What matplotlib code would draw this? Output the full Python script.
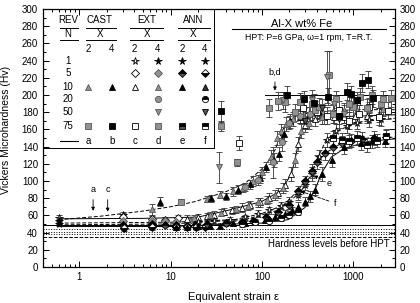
import matplotlib.pyplot as plt
from matplotlib.ticker import MultipleLocator, LogLocator, NullFormatter, FixedLocator, FixedFormatter

plt.rcParams['font.family'] = ['Liberation Sans', 'DejaVu Sans']

# ---------------- data ----------------
# low strain cluster
ext2_n1_x = [0.6, 3.0]
ext2_n1_y = [57, 61]
ext2_n1_e = [4, 3]
ext4_n1_x = [0.6, 3.0, 6.3]
ext4_n1_y = [53, 52, 50]
ext4_n1_e = [3, 3, 3]
ann_n1_x = [0.6, 3.0]
ann_n1_y = [50, 47]
ann_n1_e = [2, 3]
ext2_n5_x = [3.0, 6.3, 8.7, 12]
ext2_n5_y = [58, 56, 55, 57]
ext2_n5_e = [3, 3, 3, 3]
ext4_n5_x = [3.0, 6.3, 8.7, 11.5, 16]
ext4_n5_y = [54, 54, 53, 52, 54]
ext4_n5_e = [3, 3, 3, 3, 3]
ann2_n5_x = [3.0, 6.3, 8.7, 11.5, 15, 19]
ann2_n5_y = [49, 50, 49, 49, 48, 50]
ann2_n5_e = [3, 3, 3, 3, 3, 3]
ann4_n5_x = [3.1, 6.3, 11.5, 15, 19, 24]
ann4_n5_y = [45, 46, 46, 47, 46, 47]
ann4_n5_e = [3, 3, 3, 3, 3, 3]

# curve 1 group
cast2_n10_x = [6.3, 25, 35, 48, 62, 80, 100, 125, 145, 160, 185, 220, 280, 350, 450, 600, 800, 1100, 1500, 2100]
cast2_n10_y = [67, 79, 84, 88, 92, 100, 110, 128, 150, 158, 166, 172, 176, 179, 181, 182, 183, 183, 184, 184]
cast2_n10_e = [6, 4, 4, 5, 5, 6, 6, 8, 8, 8, 8, 8, 8, 8, 8, 8, 8, 8, 8, 8]
cast4_n10_x = [7.7, 28, 40, 55, 75, 95, 112, 135, 152, 175, 205, 260, 330, 420]
cast4_n10_y = [76, 80, 82, 90, 96, 104, 116, 124, 131, 155, 170, 175, 178, 180]
cast4_n10_e = [5, 4, 4, 5, 5, 6, 6, 8, 8, 8, 8, 8, 8, 8]
ext4_n20_x = [65, 90, 133, 165, 200, 260, 340]
ext4_n20_y = [93, 101, 122, 145, 168, 176, 178]
ext4_n20_e = [5, 6, 18, 10, 8, 8, 8]

# curve 2 group
ext2_n10_x = [15, 20, 25, 30, 38, 47, 60, 75, 95, 120, 150, 180, 210, 250, 300, 380, 480, 620, 800, 1050, 1400, 1900]
ext2_n10_y = [56, 58, 59, 61, 64, 66, 69, 72, 75, 80, 86, 95, 108, 143, 165, 172, 174, 175, 175, 176, 176, 177]
ext2_n10_e = [4, 4, 4, 4, 4, 4, 5, 5, 5, 6, 6, 7, 8, 8, 8, 8, 8, 8, 8, 8, 8, 8]
ext4_n10_x = [18, 27, 36, 52, 70, 90, 115, 140, 170, 230, 270, 330, 450]
ext4_n10_y = [57, 60, 63, 67, 71, 75, 78, 84, 92, 124, 158, 168, 174]
ext4_n10_e = [4, 4, 4, 4, 5, 5, 5, 6, 6, 8, 8, 8, 8]

# curve e / f groups
ext2_s_x = [20, 30, 45, 65, 90, 120, 160, 200, 250, 300, 350, 420, 520, 650, 850, 1100, 1500, 2000]
ext2_s_y = [52, 53, 55, 58, 62, 66, 71, 76, 84, 95, 108, 128, 148, 158, 164, 168, 171, 172]
ext2_s_e = [3, 3, 3, 3, 4, 4, 4, 5, 6, 6, 8, 8, 8, 8, 8, 8, 8, 8]
ann_d_x = [25, 40, 60, 80, 110, 150, 200, 250, 300, 350, 400, 490, 600, 750, 950, 1250, 1700, 2300]
ann_d_y = [50, 51, 52, 54, 58, 64, 72, 88, 100, 112, 122, 132, 140, 144, 147, 149, 150, 151]
ann_d_e = [3, 3, 3, 3, 4, 4, 5, 6, 6, 8, 8, 8, 8, 8, 8, 8, 8, 8]

# bottom curve group
ann2_n10_x = [11.5, 15, 20, 27, 35, 48, 65, 84, 108, 139, 178, 211, 250, 295, 340, 380, 450, 580, 800, 1230, 1600, 2200]
ann2_n10_y = [47, 47, 48, 48, 48, 51, 51, 53, 55, 58, 62, 66, 70, 76, 82, 90, 108, 124, 139, 144, 146, 147]
ann2_n10_e = [3, 3, 3, 3, 3, 3, 3, 3, 3, 4, 4, 4, 5, 5, 6, 6, 8, 8, 8, 8, 8, 8]
ann4_n20_x = [60, 85, 120, 160, 200, 250]
ann4_n20_y = [50, 52, 54, 57, 61, 64]
ann4_n20_e = [3, 3, 3, 3, 4, 4]

# N = 50 / 75 group (upper right)
cast4_n75_x = [36, 186, 290, 370, 530, 700, 850, 955, 1100, 1250, 1450, 1650]
cast4_n75_y = [181, 200, 195, 191, 198, 176, 204, 201, 194, 214, 218, 196]
cast4_n75_e = [12, 10, 10, 10, 10, 10, 10, 10, 10, 10, 10, 10]
cast2_n75_x = [13, 53, 150, 178, 262, 350, 420, 540, 650, 900, 1200, 1600, 2100, 2600]
cast2_n75_y = [76, 122, 193, 192, 192, 189, 186, 223, 195, 190, 198, 200, 195, 196]
cast2_n75_e = [3, 4, 10, 12, 10, 10, 10, 28, 10, 10, 10, 10, 10, 10]
ext2_n75_x = [56, 280, 400, 520, 700, 900, 1150, 1500, 1900, 2400]
ext2_n75_y = [144, 185, 180, 176, 183, 170, 178, 186, 175, 182]
ext2_n75_e = [8, 10, 10, 10, 10, 10, 10, 10, 10, 10]
ext4_n75_x = [36, 120, 230, 380, 600, 1000, 1400, 2000]
ext4_n75_y = [164, 185, 180, 183, 178, 186, 185, 190]
ext4_n75_e = [6, 10, 10, 10, 10, 10, 10, 10]
ext4_n50_x = [34, 170, 350, 510, 620, 800]
ext4_n50_y = [116, 194, 194, 221, 190, 178]
ext4_n50_e = [18, 10, 12, 30, 10, 10]
ann4_n50_x = [300, 450, 700]
ann4_n50_y = [170, 185, 172]
ann4_n50_e = [10, 10, 10]
ann_n75_x = [600, 750, 900, 1100, 1400, 1800, 2300]
ann_n75_y = [150, 148, 146, 150, 142, 147, 152]
ann_n75_e = [8, 8, 8, 8, 8, 8, 8]

# fitted curves
curve_c_x = [0.6, 1.7, 5, 10, 18.5, 39, 65, 108, 139, 157, 178, 230, 350, 630, 1200, 2850]
curve_c_y = [55, 59, 65, 70, 76, 87, 97, 117, 136, 151, 165, 175, 180, 182, 183, 183]
curve_a_x = [0.6, 5, 20, 43, 99, 164, 211, 230, 250, 271, 321, 449, 807, 2850]
curve_a_y = [56, 56.5, 58, 66, 76, 89, 109, 124, 144, 158, 168, 174, 175, 177]
curve_e_x = [0.6, 10, 50, 99, 194, 271, 349, 412, 508, 682, 1227, 2850]
curve_e_y = [51, 52, 55, 62, 74, 89, 108, 128, 148, 159, 169, 173]
curve_f_x = [0.6, 10, 65, 151, 250, 349, 488, 743, 1452, 2850]
curve_f_y = [49, 50, 55, 66, 89, 113, 132, 144, 150, 151]
curve_b_x = [0.6, 10, 50, 99, 194, 295, 379, 449, 577, 807, 1452, 2850]
curve_b_y = [47, 47, 50, 51, 55, 69, 89, 109, 128, 138, 146, 149]
bd_x = [108, 2850]
bd_y = [200, 200]

before_hpt = [49, 44, 41, 38, 35]
before_styles = ['-', ':', ':', ':', '--']

GRAY = '#929292'
DGRAY = '#555555'

# ---------------- figure ----------------
fig = plt.figure(figsize=(4.2, 3.03), dpi=100)
ax = fig.add_axes([0.102, 0.119, 0.838, 0.851])
ax.set_xscale('log')
ax.set_xlim(0.4, 2850)
ax.set_ylim(0, 300)


def draw(x, y, e, marker, fc, ec='black', fill='full', alt='white', ms=4.5):
    ax.errorbar(x, y, yerr=e, fmt='none', ecolor='#333333', elinewidth=0.6,
                capsize=2, capthick=0.6, zorder=2)
    ax.plot(x, y, ls='none', marker=marker, ms=ms, mfc=fc, mec=ec, mew=0.6,
            fillstyle=fill, markerfacecoloralt=alt, zorder=3)


# curves
for cx, cy, st in [(curve_c_x, curve_c_y, (0, (4, 2))), (curve_a_x, curve_a_y, '-'),
                   (curve_e_x, curve_e_y, (0, (4, 2))), (curve_f_x, curve_f_y, (0, (4, 2))),
                   (curve_b_x, curve_b_y, '-')]:
    ax.plot(cx, cy, color='black', lw=0.7, ls=st, zorder=1)
ax.plot(bd_x, bd_y, color='black', lw=0.7, zorder=1)

for lv, st in zip(before_hpt, before_styles):
    ax.axhline(lv, color='black', lw=0.7, ls=st, zorder=1)

# data
draw(ext2_n1_x, ext2_n1_y, ext2_n1_e, '*', 'white', ms=5.5)
draw(ext4_n1_x, ext4_n1_y, ext4_n1_e, '*', 'black', ms=5.5)
draw(ann_n1_x, ann_n1_y, ann_n1_e, '*', 'black', ms=5.5)
draw(ext2_n5_x, ext2_n5_y, ext2_n5_e, 'D', 'white', ms=3.8)
draw(ext4_n5_x, ext4_n5_y, ext4_n5_e, 'D', GRAY, ec=DGRAY, ms=3.8)
draw(ann2_n5_x, ann2_n5_y, ann2_n5_e, 'D', 'black', fill='top', alt=DGRAY, ms=3.8)
draw(ann4_n5_x, ann4_n5_y, ann4_n5_e, 'D', 'black', fill='bottom', alt='white', ms=3.8)
draw(cast2_n10_x, cast2_n10_y, cast2_n10_e, '^', GRAY, ec=DGRAY)
draw(cast4_n10_x, cast4_n10_y, cast4_n10_e, '^', 'black')
draw(ext4_n20_x, ext4_n20_y, ext4_n20_e, 'o', GRAY, ec=DGRAY)
draw(ext2_n10_x, ext2_n10_y, ext2_n10_e, '^', 'white')
draw(ext4_n10_x, ext4_n10_y, ext4_n10_e, '^', GRAY, ec=DGRAY)
draw(ext2_s_x, ext2_s_y, ext2_s_e, '*', 'white', ms=5.5)
draw(ann_d_x, ann_d_y, ann_d_e, 'D', 'black', fill='top', alt=DGRAY, ms=3.8)
draw(ann2_n10_x, ann2_n10_y, ann2_n10_e, '^', 'black')
draw(ann4_n20_x, ann4_n20_y, ann4_n20_e, 'o', 'black', fill='top', alt='white')
draw(ext2_n75_x, ext2_n75_y, ext2_n75_e, 's', 'white', ms=4)
draw(ext4_n75_x, ext4_n75_y, ext4_n75_e, 's', GRAY, ec=DGRAY, ms=4)
draw(cast2_n75_x, cast2_n75_y, cast2_n75_e, 's', GRAY, ec=DGRAY, ms=4)
draw(ext4_n50_x, ext4_n50_y, ext4_n50_e, 'v', GRAY, ec=DGRAY)
draw(ann4_n50_x, ann4_n50_y, ann4_n50_e, 'v', DGRAY)
draw(cast4_n75_x, cast4_n75_y, cast4_n75_e, 's', 'black', ms=4)
draw(ann_n75_x, ann_n75_y, ann_n75_e, 's', 'black', fill='top', alt='white', ms=4)

# ---------------- legend table ----------------
fs = 7
tr = ax.transAxes
box_col = {'N': 0.071, 'CAST': 0.162, 'EXT': 0.295, 'ANN': 0.426}
sub_cols = [0.128, 0.196, 0.261, 0.327, 0.395, 0.460]
row_y = {'1': 0.798, '5': 0.752, '10': 0.698, '20': 0.651, '50': 0.601, '75': 0.547}

ax.text(box_col['N'], 0.957, 'REV', transform=tr, ha='center', va='center', fontsize=fs)
for k in ['CAST', 'EXT', 'ANN']:
    ax.text(box_col[k], 0.957, k, transform=tr, ha='center', va='center', fontsize=fs)
    ax.text(box_col[k], 0.905, 'X', transform=tr, ha='center', va='center', fontsize=fs)
ax.text(box_col['N'], 0.905, 'N', transform=tr, ha='center', va='center', fontsize=fs)
for y0 in [0.928, 0.882]:
    for x0, x1 in [(0.048, 0.099), (0.122, 0.208), (0.247, 0.341), (0.383, 0.474)]:
        ax.plot([x0, x1], [y0, y0], color='black', lw=0.7, transform=tr)
for i, c in enumerate(sub_cols):
    ax.text(c, 0.845, '2' if i % 2 == 0 else '4', transform=tr, ha='center', va='center', fontsize=fs)
for n, yy in row_y.items():
    ax.text(box_col['N'], yy, n, transform=tr, ha='center', va='center', fontsize=fs)


def leg(col, row, marker, fc, ec='black', fill='full', alt='white', ms=4.5):
    ax.plot([sub_cols[col]], [row_y[row]], marker=marker, ms=ms, mfc=fc, mec=ec, mew=0.6,
            fillstyle=fill, markerfacecoloralt=alt, transform=tr, ls='none', clip_on=False)


leg(2, '1', '*', 'white', ms=5.5)
leg(3, '1', '*', 'black', ms=5.5)
leg(4, '1', '*', 'black', ms=5.5)
leg(5, '1', '*', 'black', ms=5.5)
leg(2, '5', 'D', 'white', ms=3.8)
leg(3, '5', 'D', GRAY, ec=DGRAY, ms=3.8)
leg(4, '5', 'D', 'black', fill='top', alt=DGRAY, ms=3.8)
leg(5, '5', 'D', 'black', fill='bottom', alt='white', ms=3.8)
leg(0, '10', '^', GRAY, ec=DGRAY)
leg(1, '10', '^', 'black')
leg(2, '10', '^', 'white')
leg(3, '10', '^', GRAY, ec=DGRAY)
leg(4, '10', '^', 'black')
leg(5, '10', '^', '#333333')
leg(3, '20', 'o', GRAY, ec=DGRAY)
leg(5, '20', 'o', 'black', fill='top', alt='white')
leg(3, '50', 'v', GRAY, ec=DGRAY)
leg(5, '50', 'v', DGRAY)
leg(0, '75', 's', GRAY, ec=DGRAY, ms=4)
leg(1, '75', 's', 'black', ms=4)
leg(2, '75', 's', 'white', ms=4)
leg(3, '75', 's', GRAY, ec=DGRAY, ms=4)
leg(4, '75', 's', 'black', fill='top', alt=DGRAY, ms=4)
leg(5, '75', 's', 'black', fill='top', alt='white', ms=4)
ax.plot([0.048, 0.099], [0.488, 0.488], color='black', lw=0.8, transform=tr)
for c, lab in zip(sub_cols, ['a', 'b', 'c', 'd', 'e', 'f']):
    ax.text(c, 0.488, lab, transform=tr, ha='center', va='center', fontsize=fs)
ax.plot([0.486, 0.486], [1.0, 0.461], color='black', lw=0.7, transform=tr)
ax.plot([0.0, 0.486], [0.461, 0.461], color='black', lw=0.7, transform=tr)

# title block
ax.text(0.734, 0.942, 'Al-X wt% Fe', transform=tr, ha='center', va='center', fontsize=8)
ax.plot([0.537, 0.976], [0.922, 0.922], color='black', lw=0.8, transform=tr)
ax.text(0.756, 0.888, 'HPT: P=6 GPa, ω=1 rpm, T=R.T.', transform=tr, ha='center',
        va='center', fontsize=6.3)
ax.text(0.985, 0.089, 'Hardness levels before HPT', transform=tr, ha='right',
        va='center', fontsize=7)

# annotations
arr = dict(arrowstyle='-|>', lw=0.6, color='black', mutation_scale=5)
ax.annotate('a', xy=(1.42, 62), xytext=(1.42, 90), ha='center', va='center', fontsize=6.5, arrowprops=arr)
ax.annotate('c', xy=(2.05, 61), xytext=(2.05, 90), ha='center', va='center', fontsize=6.5, arrowprops=arr)
ax.annotate('b,d', xy=(139, 202), xytext=(139, 227), ha='center', va='center', fontsize=6.5, arrowprops=arr)
darr = dict(arrowstyle='-|>', lw=0.6, color='black', ls='--', mutation_scale=5)
ax.annotate('e', xy=(349, 108), xytext=(540, 97), ha='center', va='center', fontsize=6.5, arrowprops=darr)
ax.annotate('f', xy=(250, 89), xytext=(640, 74), ha='center', va='center', fontsize=6.5, arrowprops=darr)

# ---------------- axes ----------------
ax.yaxis.set_major_locator(MultipleLocator(20))
ax.yaxis.set_minor_locator(MultipleLocator(10))
ax.xaxis.set_major_locator(FixedLocator([1, 10, 100, 1000]))
ax.xaxis.set_major_formatter(FixedFormatter(['1', '10', '100', '1000']))
ax.xaxis.set_minor_locator(LogLocator(base=10, subs=range(2, 10)))
ax.xaxis.set_minor_formatter(NullFormatter())
ax.tick_params(which='both', direction='in', top=True, right=True, labelright=True,
               labelsize=7, width=0.7)
ax.tick_params(which='major', length=4)
ax.tick_params(which='minor', length=2)
for s in ax.spines.values():
    s.set_linewidth(0.9)

fig.text(0.555, 0.02, 'Equivalent strain ε', ha='center', va='center', fontsize=8)
fig.text(0.014, 0.57, 'Vickers Microhardness (Hv)', rotation=90, ha='center', va='center', fontsize=7.5)

fig.savefig('out.png', dpi=100)
